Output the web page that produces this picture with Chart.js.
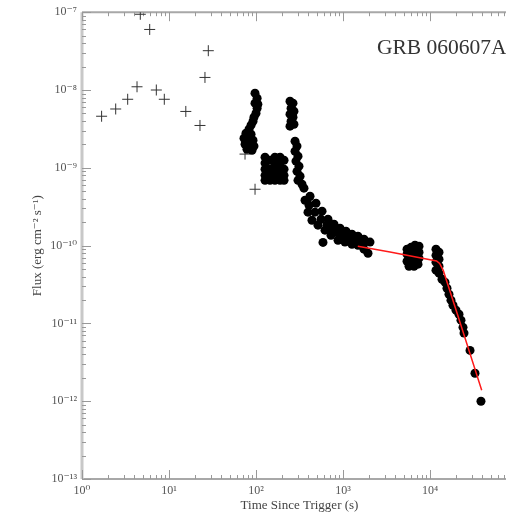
<!DOCTYPE html>
<html>
<head>
<meta charset="utf-8">
<script src="https://cdn.jsdelivr.net/npm/chart.js@4.4.1/dist/chart.umd.min.js"></script>
<style>
  html, body { margin: 0; padding: 0; background: #fff; overflow: hidden; }
  #wrap { position: absolute; left: 0; top: 0; width: 535px; height: 517px; }
</style>
</head>
<body>
<div id="wrap"><canvas id="grb" width="535" height="517"></canvas></div>
<script>
// ====== Data ======
const xDecades = [1, 10, 100, 1000, 10000, 100000];
const yDecades = [1e-13, 1e-12, 1e-11, 1e-10, 1e-9, 1e-8, 1e-7];
const xTickLabels = ['10⁰', '10¹', '10²', '10³', '10⁴', '10⁵'];
const yTickLabels = ['10⁻¹³', '10⁻¹²', '10⁻¹¹', '10⁻¹⁰', '10⁻⁹', '10⁻⁸', '10⁻⁷'];

// BAT (crosses)
const batTime = [1.68, 2.44, 3.35, 4.29, 4.68, 6.0, 7.15, 8.83, 15.6, 22.7, 25.9, 28.3, 74.8, 97.5];
const batFlux = [4.6e-9, 5.7e-9, 7.6e-9, 1.1e-8, 9.4e-8, 6.0e-8, 1.0e-8, 7.6e-9, 5.3e-9, 3.5e-9, 1.45e-8, 3.2e-8, 1.5e-9, 5.3e-10];

// XRT (filled points)
const xrtTime = [
  // first flare
  97.4, 103, 97.4, 103, 100, 94.8, 105, 92.4, 87.7,
  83.1, 76.7, 87.7, 72.8, 83.1, 92.4, 74.8, 85.3, 94.8, 78.8, 90,
  // second bump
  127, 127, 127, 127, 127,
  145, 145, 145, 145,
  165, 165, 165, 165, 165,
  189, 189, 189, 189, 189,
  210, 210, 210, 210,
  // third flare
  246, 266, 253, 273, 246, 266, 253, 273, 246,
  281, 296, 281, 304, 288, 312, 296, 321, 304,
  // steep decay into plateau (upper, lower, middle rows of the band)
  338, 356, 418, 489, 574, 672, 788, 924, 1082, 1268, 1486, 1742, 2043,
  366, 386, 396, 440, 516, 621, 728, 877, 1054, 1268, 1486, 1742, 1938,
  407, 476, 559, 655, 767, 900, 1054, 1236, 1449, 1698, 589,
  // plateau blobs
  5445, 6050, 6725, 7475, 5445, 6050, 6725, 7475, 5445, 6050, 6725, 7475, 5740, 6550, 7280,
  11720, 12690, 11720, 12690, 11720, 12690, 11720, 12690, 13740,
  // final decay
  14870, 15670, 16530, 17430, 18380, 19900, 21540, 22710, 23950, 24600,
  28840, 32900, 38550
];
const xrtFlux = [
  9.1e-9, 7.85e-9, 6.77e-9, 5.83e-9, 5.03e-9, 4.47e-9, 6.56e-9, 3.97e-9, 3.53e-9,
  3.13e-9, 2.79e-9, 2.7e-9, 2.4e-9, 2.33e-9, 2.26e-9, 2.01e-9, 1.95e-9, 1.9e-9, 1.73e-9, 1.68e-9,
  1.37e-9, 1.15e-9, 9.6e-10, 8.0e-10, 6.9e-10,
  1.25e-9, 9.6e-10, 8.0e-10, 6.9e-10,
  1.37e-9, 1.15e-9, 9.6e-10, 8.0e-10, 6.9e-10,
  1.37e-9, 1.15e-9, 9.6e-10, 8.0e-10, 6.9e-10,
  1.25e-9, 9.6e-10, 8.0e-10, 6.9e-10,
  7.18e-9, 6.77e-9, 5.83e-9, 5.34e-9, 4.89e-9, 4.47e-9, 3.97e-9, 3.63e-9, 3.43e-9,
  2.2e-9, 1.9e-9, 1.63e-9, 1.41e-9, 1.22e-9, 1.05e-9, 9.0e-10, 7.8e-10, 6.9e-10,
  6.15e-10, 5.47e-10, 4.31e-10, 3.5e-10, 2.77e-10, 2.18e-10, 1.88e-10, 1.67e-10, 1.53e-10, 1.40e-10, 1.32e-10, 1.21e-10, 1.11e-10,
  3.83e-10, 3.83e-10, 2.69e-10, 2.12e-10, 1.83e-10, 1.58e-10, 1.36e-10, 1.17e-10, 1.11e-10, 1.04e-10, 1.01e-10, 9.0e-11, 7.98e-11,
  3.3e-10, 2.69e-10, 2.18e-10, 1.83e-10, 1.58e-10, 1.40e-10, 1.28e-10, 1.21e-10, 1.14e-10, 1.04e-10, 1.1e-10,
  9.0e-11, 9.5e-11, 1.01e-10, 9.8e-11, 7.76e-11, 7.76e-11, 7.98e-11, 8.2e-11, 6.3e-11, 6.3e-11, 6.7e-11, 6.9e-11, 5.43e-11, 5.43e-11, 5.77e-11,
  9.0e-11, 8.2e-11, 7.5e-11, 6.7e-11, 6.12e-11, 5.43e-11, 4.83e-11, 4.42e-11, 3.7e-11,
  3.39e-11, 2.83e-11, 2.37e-11, 1.99e-11, 1.71e-11, 1.48e-11, 1.31e-11, 1.1e-11, 8.9e-12, 7.5e-12,
  4.5e-12, 2.29e-12, 1.0e-12
];

// broken power-law fit (red)
const fitTime = [1480, 3470, 11900, 12900, 14200, 21200, 39300];
const fitFlux = [9.8e-11, 8.3e-11, 6.35e-11, 5.9e-11, 4.8e-11, 1.2e-11, 1.38e-12];

const serif = '"Liberation Serif", "DejaVu Serif", serif';
const axisGrey = '#a8a8a8';

// ====== Axes drawn inward, like the original ======
const axisFrame = {
    id: 'axisFrame',
    beforeDatasetsDraw(chart) {
        const { ctx, chartArea: a, scales: { x, y } } = chart;
        ctx.save();
        ctx.strokeStyle = axisGrey;
        ctx.lineWidth = 2;
        ctx.beginPath();
        ctx.moveTo(a.left, a.top); ctx.lineTo(a.right, a.top);
        ctx.moveTo(a.left, a.bottom); ctx.lineTo(a.right, a.bottom);
        ctx.stroke();
        ctx.lineWidth = 3;
        ctx.strokeStyle = '#c8c8c8';
        ctx.beginPath();
        ctx.moveTo(a.left, a.top); ctx.lineTo(a.left, a.bottom);
        ctx.stroke();

        ctx.lineWidth = 1;
        ctx.strokeStyle = '#999';
        ctx.beginPath();
        xDecades.forEach((d, i) => {
            for (let k = 1; k <= 9; k++) {
                if (k > 1 && i === xDecades.length - 1) break;
                const px = Math.round(x.getPixelForValue(d * k)) + 0.5;
                if (px > a.right) continue;
                const len = k === 1 ? 9 : 4;
                ctx.moveTo(px, a.bottom); ctx.lineTo(px, a.bottom - len);
                ctx.moveTo(px, a.top); ctx.lineTo(px, a.top + len);
            }
        });
        yDecades.forEach((d, i) => {
            for (let k = 1; k <= 9; k++) {
                if (k > 1 && i === yDecades.length - 1) break;
                const py = Math.round(y.getPixelForValue(d * k)) + 0.5;
                const len = k === 1 ? 9 : 4;
                ctx.moveTo(a.left, py); ctx.lineTo(a.left + len, py);
            }
        });
        ctx.stroke();
        ctx.restore();
    },
    afterDraw(chart) {
        const { ctx } = chart;
        ctx.save();
        ctx.fillStyle = '#333';
        ctx.font = '21.5px ' + serif;
        ctx.textBaseline = 'alphabetic';
        ctx.fillText('GRB 060607A', 377, 54);
        ctx.restore();
    }
};

new Chart(document.getElementById('grb'), {
    type: 'scatter',
    data: {
        datasets: [
            {
                label: 'fit', type: 'line', order: 0,
                data: fitTime.map((t, i) => ({ x: t, y: fitFlux[i] })),
                borderColor: '#ff1a1a', borderWidth: 1.5, pointRadius: 0, fill: false, tension: 0
            },
            {
                label: 'XRT', order: 1,
                data: xrtTime.map((t, i) => ({ x: t, y: xrtFlux[i] })),
                backgroundColor: '#000', borderColor: '#000', pointRadius: 4.5, pointBorderWidth: 0
            },
            {
                label: 'BAT', order: 2,
                data: batTime.map((t, i) => ({ x: t, y: batFlux[i] })),
                pointStyle: 'cross', pointRadius: 5.5, borderColor: '#333', borderWidth: 1, backgroundColor: '#333'
            }
        ]
    },
    options: {
        responsive: false,
        animation: false,
        layout: { padding: { top: 12, right: 18, left: 0, bottom: 0 } },
        plugins: { legend: { display: false }, tooltip: { enabled: false } },
        scales: {
            x: {
                type: 'logarithmic', min: 1, max: 1e5,
                grid: { display: false, drawTicks: false }, border: { display: false },
                afterBuildTicks: s => { s.ticks = xDecades.map(v => ({ value: v })); },
                afterFit: s => { s.height = 38; },
                ticks: {
                    autoSkip: false, maxRotation: 0, padding: 5, color: '#555',
                    font: { family: serif, size: 12 },
                    callback: v => xTickLabels[xDecades.indexOf(v)] ?? ''
                },
                title: {
                    display: true, text: 'Time Since Trigger (s)', color: '#444',
                    font: { family: serif, size: 13 }, padding: { top: 0, bottom: 4 }
                }
            },
            y: {
                type: 'logarithmic', min: 1e-13, max: 1e-7,
                grid: { display: false, drawTicks: false }, border: { display: false },
                afterBuildTicks: s => { s.ticks = yDecades.map(v => ({ value: v })); },
                afterFit: s => { s.width = 82; },
                ticks: {
                    autoSkip: false, padding: 5, color: '#555',
                    font: { family: serif, size: 12 },
                    callback: v => yTickLabels[yDecades.indexOf(v)] ?? ''
                },
                title: {
                    display: true, text: 'Flux (erg cm⁻² s⁻¹)', color: '#444',
                    font: { family: serif, size: 13 }, padding: { top: 30, bottom: 0 }
                }
            }
        }
    },
    plugins: [axisFrame]
});
</script>
</body>
</html>
